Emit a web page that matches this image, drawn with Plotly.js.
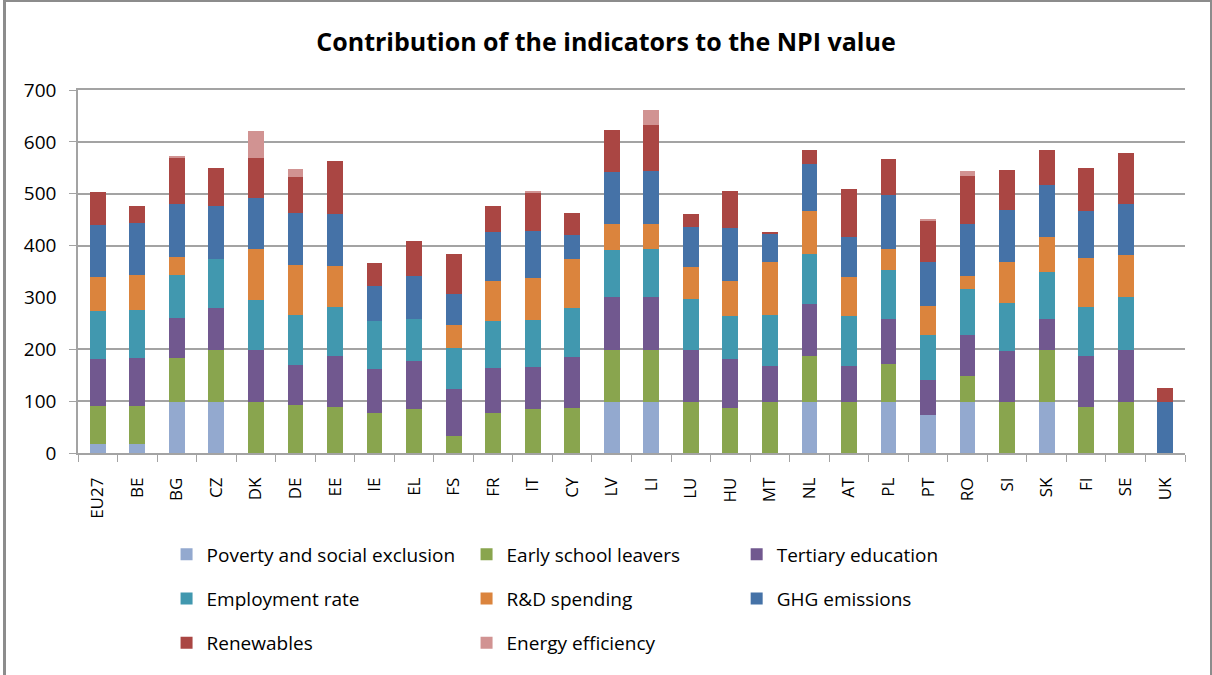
<!DOCTYPE html>
<html>
<head>
<meta charset="utf-8">
<script src="https://cdn.plot.ly/plotly-3.0.1.min.js"></script>
<style>
  html, body { margin: 0; padding: 0; background: #fff; }
  #wrap { position: relative; width: 1212px; height: 675px; }
  #chart { width: 1212px; height: 675px; }
  #frame { position: absolute; left: 3px; top: 0; width: 1209px; height: 675px; box-sizing: border-box;
           border-left: 3px solid #8c8c8c; border-top: 2px solid #8c8c8c; border-right: 2px solid #8c8c8c; pointer-events: none; }
</style>
</head>
<body>
<div id="wrap"><div id="chart"></div><div id="frame"></div></div>
<script>
const categories = ["EU27","BE","BG","CZ","DK","DE","EE","IE","EL","FS","FR","IT","CY","LV","LI","LU","HU","MT","NL","AT","PL","PT","RO","SI","SK","FI","SE","UK"];

const poverty     = [18,18,99,99,0,0,0,0,0,0,0,0,0,99,99,0,0,0,99,0,99,74,99,0,99,0,0,0];
const earlySchool = [73,73,85,100,99,93,88,78,84,33,78,84,86,100,100,99,86,99,88,99,73,0,49,99,100,88,99,0];
const tertiary    = [90,93,76,81,100,76,99,84,93,91,86,81,99,101,101,100,96,68,101,68,86,66,80,97,59,99,100,0];
const employment  = [92,91,83,94,96,98,95,93,81,79,91,91,95,91,94,98,83,100,96,98,94,88,89,94,91,95,101,0];
const rdSpending  = [66,68,35,0,98,96,79,0,0,44,76,81,94,50,47,61,67,101,83,74,42,55,24,79,67,94,81,0];
const ghg         = [100,100,102,103,98,99,100,67,83,60,96,92,47,100,103,77,102,54,90,77,103,86,100,100,100,90,100,99];
const renewables  = [64,33,90,72,78,71,102,44,67,76,50,73,41,82,89,26,72,5,27,93,69,80,93,77,69,84,97,27];
const energyEff   = [0,0,3,0,51,14,0,0,0,0,0,3,0,0,29,0,0,0,0,0,0,3,10,0,0,0,0,0];

// value-axis labels; the reference draws no gridline or tick at 300
const gridTicks = [0,100,200,400,500,600,700];
const ungriddedTicks = [300];

const series = [
  {name: "Poverty and social exclusion", values: poverty,     color: "#93A9CF", legend: "legend"},
  {name: "Early school leavers",         values: earlySchool, color: "#89A54E", legend: "legend2"},
  {name: "Tertiary education",           values: tertiary,    color: "#71588F", legend: "legend3"},
  {name: "Employment rate",              values: employment,  color: "#4198AF", legend: "legend"},
  {name: "R&D spending",                 values: rdSpending,  color: "#DB843D", legend: "legend2"},
  {name: "GHG emissions",                values: ghg,         color: "#4572A7", legend: "legend3"},
  {name: "Renewables",                   values: renewables,  color: "#AA4643", legend: "legend"},
  {name: "Energy efficiency",            values: energyEff,   color: "#D19392", legend: "legend2"}
];

const FONT = "'Open Sans', sans-serif";
const TICKFONT = {family: FONT, size: 19, color: "#000"};
const GRID = "#a3a3a3";

const traces = series.map((s, i) => ({
  type: "bar",
  x: categories,
  y: s.values,
  name: s.name,
  legend: s.legend,
  legendgroup: "g" + i,
  marker: {color: s.color, line: {width: 0}},
  hoverinfo: "x+y+name"
}));

const legendCommon = {
  orientation: "v",
  traceorder: "grouped",
  tracegroupgap: 16.5,
  yanchor: "top",
  y: -0.227,
  xanchor: "left",
  bgcolor: "rgba(0,0,0,0)",
  font: {family: FONT, size: 19, color: "#000"},
  itemwidth: 30
};

const layout = {
  width: 1212,
  height: 675,
  margin: {l: 78, r: 27, t: 90, b: 222, autoexpand: false},
  paper_bgcolor: "#fff",
  plot_bgcolor: "#fff",
  barmode: "stack",
  bargap: 0.6,
  showlegend: true,
  title: {
    text: "<b>Contribution of the indicators to the NPI value</b>",
    font: {family: FONT, size: 25, color: "#000"},
    x: 0.5, xref: "container", xanchor: "center",
    y: 0.938, yref: "container", yanchor: "middle"
  },
  xaxis: {
    type: "category",
    tickangle: -90,
    tickson: "boundaries",
    ticks: "outside",
    ticklen: 7,
    tickcolor: GRID,
    showline: true,
    mirror: true,
    linecolor: GRID,
    linewidth: 1.5,
    showgrid: false,
    automargin: false,
    ticklabelstandoff: 16,
    tickfont: {family: FONT, size: 17, color: "#000"}
  },
  yaxis: {
    range: [0, 700],
    tickmode: "array",
    tickvals: gridTicks,
    ticktext: gridTicks.map(String),
    ticks: "outside",
    ticklen: 7,
    tickcolor: GRID,
    showgrid: true,
    gridcolor: GRID,
    gridwidth: 1.5,
    showline: true,
    linecolor: GRID,
    linewidth: 1.5,
    zeroline: false,
    automargin: false,
    ticklabelstandoff: 9,
    tickfont: TICKFONT
  },
  annotations: ungriddedTicks.map(v => ({
    text: String(v), x: 0, xref: "paper", y: v, yref: "y",
    xanchor: "right", yanchor: "middle", xshift: -19, showarrow: false, font: TICKFONT
  })),
  legend:  Object.assign({}, legendCommon, {x: 0.080}),
  legend2: Object.assign({}, legendCommon, {x: 0.351}),
  legend3: Object.assign({}, legendCommon, {x: 0.595})
};

Plotly.newPlot("chart", traces, layout, {displayModeBar: false});
</script>
</body>
</html>
